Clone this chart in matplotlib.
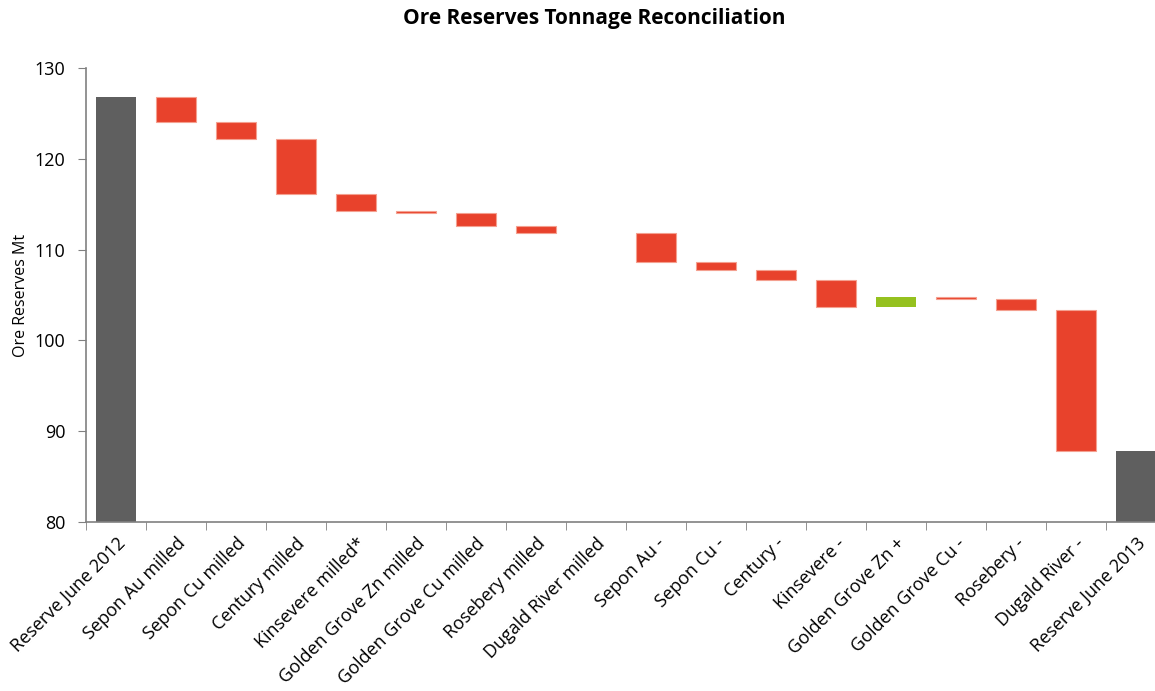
import matplotlib.pyplot as plt
import numpy as np

plt.rcParams['font.family'] = ['Open Sans', 'DejaVu Sans']

categories = ['Reserve June 2012', 'Sepon Au milled', 'Sepon Cu milled', 'Century milled',
              'Kinsevere milled*', 'Golden Grove Zn milled', 'Golden Grove Cu milled',
              'Rosebery milled', 'Dugald River milled', 'Sepon Au -', 'Sepon Cu -',
              'Century -', 'Kinsevere -', 'Golden Grove Zn +', 'Golden Grove Cu -',
              'Rosebery -', 'Dugald River -', 'Reserve June 2013']

start_reserve = 126.8
# changes between the two reserve totals (Mt)
changes = [-2.7, -1.9, -6.1, -1.8, -0.25, -1.45, -0.8, 0.0,
           -3.2, -0.9, -1.05, -3.0, 1.15, -0.2, -1.2, -15.6]
end_reserve = 87.8

gray = '#5f5f5f'
red = '#e8422c'
green = '#95c11f'

fig = plt.figure(figsize=(11.55, 6.91), dpi=100)
ax = fig.add_axes([86/1155, 1 - 522/691, (1166 - 86)/1155, (522 - 68)/691])

x = np.arange(len(categories))
w = 0.67

# totals
ax.bar([0, len(categories) - 1], [start_reserve - 80, end_reserve - 80], bottom=80,
       width=w, color=gray)

# floating steps
level = start_reserve
for i, d in enumerate(changes, start=1):
    new = level + d
    if d != 0:
        lo = min(level, new)
        col = green if d > 0 else red
        ec = 'none' if d > 0 else '#f4a090'
        ax.bar(i, abs(d), bottom=lo, width=w, color=col, edgecolor=ec, linewidth=0.8)
    level = new

ax.set_xlim(-0.5, 17.5)
ax.set_ylim(80, 130)
ax.set_yticks(np.arange(80, 131, 10))

ax.set_xticks(x)
ax.set_xticklabels(categories, rotation=45, ha='right', va='top', rotation_mode='anchor',
                   fontsize=13)
ax.tick_params(axis='x', length=0, pad=9)
ax.set_xticks(np.arange(-0.5, 17.5, 1), minor=True)
ax.tick_params(axis='x', which='minor', length=6, color='#808080', direction='out')
ax.tick_params(axis='y', length=6, color='#808080', labelsize=13, direction='out', pad=9)

for s in ['top', 'right']:
    ax.spines[s].set_visible(False)
for s in ['left', 'bottom']:
    ax.spines[s].set_color('#808080')
    ax.spines[s].set_linewidth(1.2)

ax.set_ylabel('Ore Reserves Mt', fontsize=11.5, labelpad=4)
fig.suptitle('Ore Reserves Tonnage Reconciliation', fontsize=15, fontweight='bold',
             x=594/1155, y=1 - 8/691, va='top')

fig.savefig('out.png', dpi=100)
